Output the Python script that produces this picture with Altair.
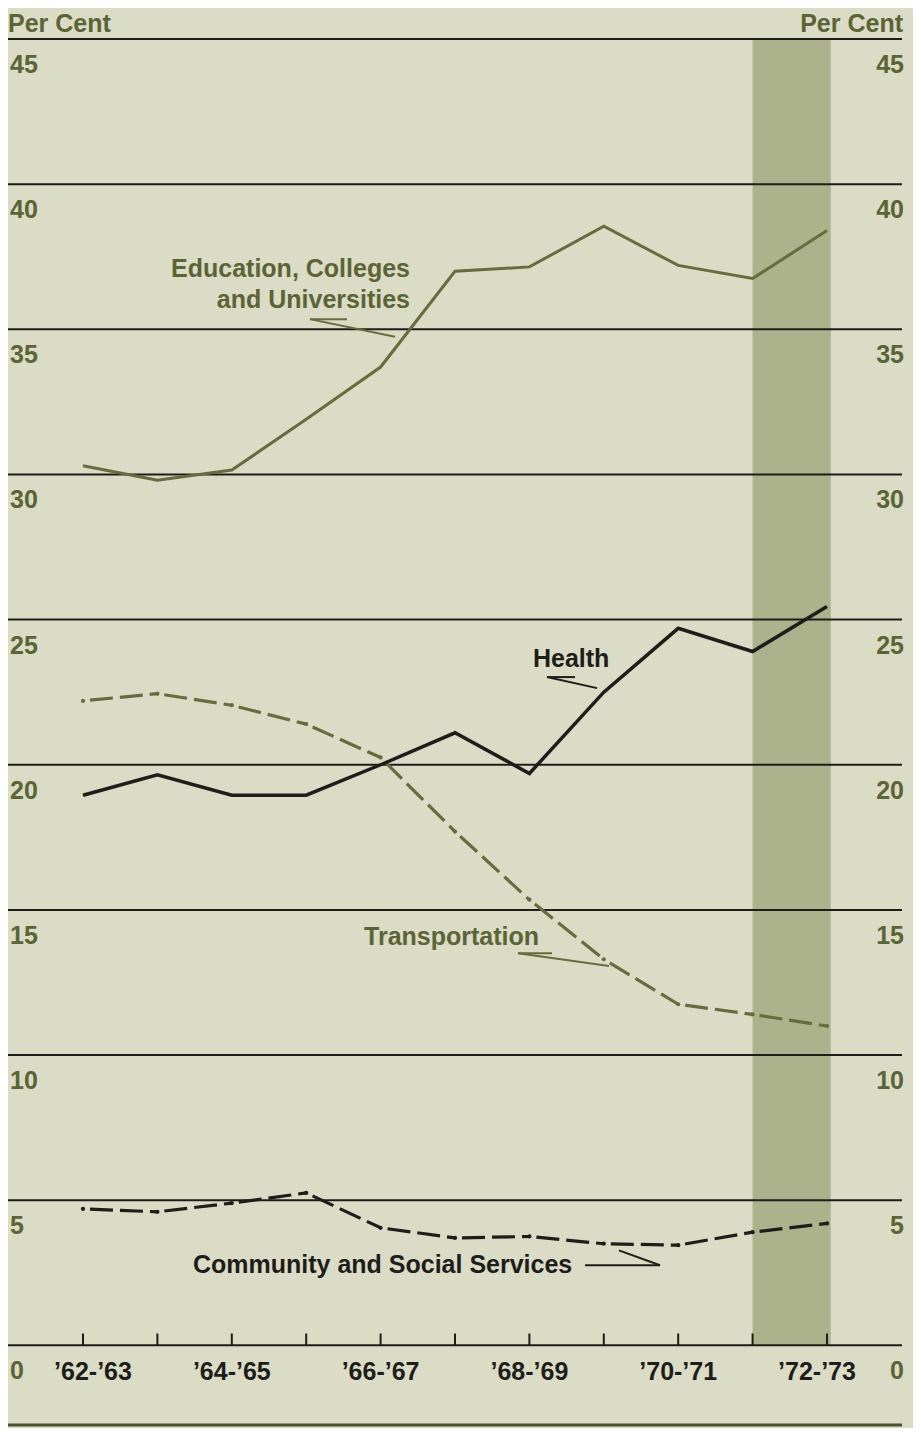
import altair as alt
import pandas as pd

# ---------------- data ----------------
periods = ["\u201962-\u201963", "\u201963-\u201964", "\u201964-\u201965", "\u201965-\u201966",
           "\u201966-\u201967", "\u201967-\u201968", "\u201968-\u201969", "\u201969-\u201970",
           "\u201970-\u201971", "\u201971-\u201972", "\u201972-\u201973"]
education = [30.3, 29.8, 30.15, 31.9, 33.7, 37.0, 37.15, 38.55, 37.2, 36.75, 38.4]
health = [18.95, 19.65, 18.95, 18.95, 20.0, 21.1, 19.7, 22.5, 24.7, 23.9, 25.45]
transportation = [22.2, 22.45, 22.05, 21.4, 20.25, 17.7, 15.35, 13.3, 11.75, 11.4, 11.0]
community = [4.7, 4.6, 4.9, 5.25, 4.05, 3.7, 3.75, 3.5, 3.45, 3.9, 4.2]
shown_periods = [0, 2, 4, 6, 8, 10]
y_ticks = [0, 5, 10, 15, 20, 25, 30, 35, 40, 45]
band_span = [9.0, 10.05]

# ---------------- styling ----------------
BG = "#dbdcc6"
OLIVE_TXT = "#5a6435"
OLIVE_LINE = "#646d3d"
DARK = "#1d1d19"
BAND = "#abb28c"
FONT = "Liberation Sans"
FS = 25

TOP_PAD = 10
W, H = 905, 1410          # drawing area size (below the top padding)
GRID_W = 894              # length of the horizontal rules
PX_PER_UNIT = 29.03
PX_PER_PERIOD = 74.4
Y_MAX = 45 + (31 - TOP_PAD) / PX_PER_UNIT
Y_MIN = Y_MAX - H / PX_PER_UNIT
X_MIN = -75 / PX_PER_PERIOD
X_MAX = X_MIN + W / PX_PER_PERIOD

xs = alt.Scale(domain=[X_MIN, X_MAX], nice=False, zero=False)
ys = alt.Scale(domain=[Y_MIN, Y_MAX], nice=False, zero=False)


def X(f):
    return alt.X(f, type="quantitative", scale=xs, axis=None)


def Y(f):
    return alt.Y(f, type="quantitative", scale=ys, axis=None)


idx = list(range(len(periods)))

# shaded band
band_df = pd.DataFrame({"x": [band_span[0]], "x2": [band_span[1]], "y": [0], "y2": [45]})
band = alt.Chart(band_df).mark_rect(color=BAND).encode(
    x=X("x"), x2="x2", y=Y("y"), y2="y2")

# gridlines + baseline
grid_df = pd.DataFrame({"y": y_ticks})
grid = alt.Chart(grid_df).mark_rule(color=DARK, strokeWidth=2).encode(
    y=Y("y"), x=alt.value(0), x2=alt.value(GRID_W))

# ticks on the zero line
tick_df = pd.DataFrame({"x": idx, "y": [0] * len(idx), "y2": [0.41] * len(idx)})
ticks = alt.Chart(tick_df).mark_rule(color=DARK, strokeWidth=2).encode(
    x=X("x"), y=Y("y"), y2="y2")

# bottom rule
bottom = alt.Chart(pd.DataFrame({"a": [0]})).mark_rule(color="#4b532e", strokeWidth=3).encode(
    x=alt.value(0), x2=alt.value(GRID_W), y=alt.value(H - 3))


def solid(values, color, width):
    df = pd.DataFrame({"x": idx, "y": values})
    return alt.Chart(df).mark_line(color=color, strokeWidth=width, strokeJoin="miter").encode(
        x=X("x"), y=Y("y"))


def dashdot(values, color, width):
    rows = []
    for i in range(len(values) - 1):
        rows.append({"x": i, "y": values[i], "seg": i})
        rows.append({"x": i + 1, "y": values[i + 1], "seg": i})
    seg_df = pd.DataFrame(rows)
    line = alt.Chart(seg_df).mark_line(color=color, strokeWidth=width,
                                       strokeDash=[23, 7], strokeDashOffset=23).encode(
        x=X("x"), y=Y("y"), detail="seg:N")
    pts = alt.Chart(pd.DataFrame({"x": idx, "y": values})).mark_circle(
        color=color, size=18, opacity=1).encode(x=X("x"), y=Y("y"))
    return line + pts


edu_line = solid(education, OLIVE_LINE, 3)
health_line = solid(health, DARK, 3.5)
trans_line = dashdot(transportation, OLIVE_LINE, 3.2)
comm_line = dashdot(community, DARK, 3.2)

# y labels (both sides)
ylab_df = pd.DataFrame({"y": y_ticks, "t": [str(v) for v in y_ticks]})
ylab_left = alt.Chart(ylab_df).mark_text(
    align="left", baseline="alphabetic", dy=34, font=FONT, fontSize=FS,
    fontWeight="bold", color=OLIVE_TXT).encode(x=alt.value(2), y=Y("y"), text="t")
ylab_right = alt.Chart(ylab_df).mark_text(
    align="right", baseline="alphabetic", dy=34, font=FONT, fontSize=FS,
    fontWeight="bold", color=OLIVE_TXT).encode(x=alt.value(896), y=Y("y"), text="t")

pc_df = pd.DataFrame({"y": [45], "t": ["Per Cent"]})
pc_left = alt.Chart(pc_df).mark_text(
    align="left", baseline="alphabetic", dy=-7, font=FONT, fontSize=FS,
    fontWeight="bold", color=OLIVE_TXT).encode(x=alt.value(0), y=Y("y"), text="t")
pc_right = alt.Chart(pc_df).mark_text(
    align="right", baseline="alphabetic", dy=-7, font=FONT, fontSize=FS,
    fontWeight="bold", color=OLIVE_TXT).encode(x=alt.value(895), y=Y("y"), text="t")

# x labels
xl_df = pd.DataFrame({"x": shown_periods, "y": [0] * len(shown_periods),
                      "t": [periods[i] for i in shown_periods]})


def xlab(df, dx):
    return alt.Chart(df).mark_text(
        align="center", baseline="alphabetic", dy=35, dx=dx, font=FONT, fontSize=FS,
        fontWeight="bold", color=DARK).encode(x=X("x"), y=Y("y"), text="t")


xl_first = xlab(xl_df.iloc[[0]], 10)
xl_mid = xlab(xl_df.iloc[1:-1], 0)
xl_last = xlab(xl_df.iloc[[-1]], -10)

# annotations
edu_txt_df = pd.DataFrame({"x": [4.395, 4.395], "y": [36.80, 35.73],
                           "t": ["Education, Colleges", "and Universities"]})
edu_txt = alt.Chart(edu_txt_df).mark_text(
    align="right", baseline="alphabetic", font=FONT, fontSize=FS, fontWeight="bold",
    color=OLIVE_TXT).encode(x=X("x"), y=Y("y"), text="t")

trans_txt_df = pd.DataFrame({"x": [3.777], "y": [13.79], "t": ["Transportation"]})
trans_txt = alt.Chart(trans_txt_df).mark_text(
    align="left", baseline="alphabetic", font=FONT, fontSize=FS, fontWeight="bold",
    color=OLIVE_TXT).encode(x=X("x"), y=Y("y"), text="t")

dark_txt_df = pd.DataFrame({"x": [6.048, 1.478], "y": [23.37, 2.49],
                            "t": ["Health", "Community and Social Services"]})
dark_txt = alt.Chart(dark_txt_df).mark_text(
    align="left", baseline="alphabetic", font=FONT, fontSize=FS, fontWeight="bold",
    color=DARK).encode(x=X("x"), y=Y("y"), text="t")

olive_arrows_df = pd.DataFrame({
    "x": [3.051, 3.051, 5.847, 5.847],
    "y": [35.35, 35.35, 13.51, 13.51],
    "x2": [3.548, 4.194, 6.304, 7.070],
    "y2": [35.35, 34.74, 13.51, 13.07]})
olive_arrows = alt.Chart(olive_arrows_df).mark_rule(color=OLIVE_LINE, strokeWidth=2).encode(
    x=X("x"), y=Y("y"), x2="x2", y2="y2")

dark_arrows_df = pd.DataFrame({
    "x": [6.237, 6.237, 7.755, 7.755],
    "y": [23.02, 23.02, 2.76, 2.76],
    "x2": [6.613, 6.909, 6.747, 7.204],
    "y2": [23.02, 22.64, 2.76, 3.27]})
dark_arrows = alt.Chart(dark_arrows_df).mark_rule(color=DARK, strokeWidth=2).encode(
    x=X("x"), y=Y("y"), x2="x2", y2="y2")

chart = alt.layer(
    band, grid, ticks, bottom,
    edu_line, trans_line, comm_line, health_line,
    ylab_left, ylab_right, pc_left, pc_right,
    xl_first, xl_mid, xl_last,
    edu_txt, trans_txt, dark_txt, olive_arrows, dark_arrows
).properties(
    width=W, height=H, background=BG,
    padding={"top": TOP_PAD, "left": 0, "right": 0, "bottom": 0},
    autosize=alt.AutoSizeParams(type="none")
).configure_view(stroke=None)

chart.save("out.html", embed_options={"renderer": "svg", "actions": False})
